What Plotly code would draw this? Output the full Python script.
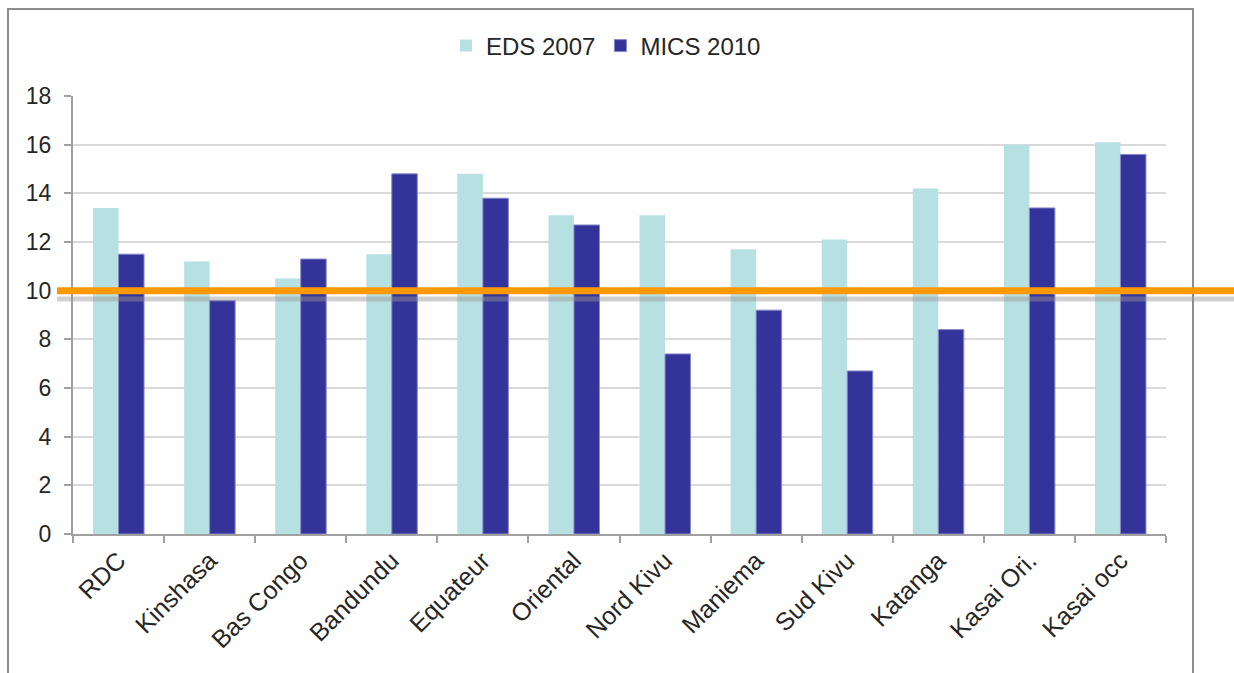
import plotly.graph_objects as go

categories = ["RDC", "Kinshasa", "Bas Congo", "Bandundu", "Equateur", "Oriental",
              "Nord Kivu", "Maniema", "Sud Kivu", "Katanga", "Kasai Ori.", "Kasai occ"]
eds_2007 = [13.4, 11.2, 10.5, 11.5, 14.8, 13.1, 13.1, 11.7, 12.1, 14.2, 16.0, 16.1]
mics_2010 = [11.5, 9.6, 11.3, 14.8, 13.8, 12.7, 7.4, 9.2, 6.7, 8.4, 13.4, 15.6]
threshold = 10
y_ticks = [0, 2, 4, 6, 8, 10, 12, 14, 16, 18]

W, H = 1234, 673
L, R, T, B = 73, 68, 96, 139
pw, ph = W - L - R, H - T - B

def px_x(p):
    return (p - L) / pw

def px_y(p):
    return (H - B - p) / ph

font = "Liberation Sans, Arial, sans-serif"
txt = "#262626"

fig = go.Figure()
fig.add_trace(go.Bar(x=categories, y=eds_2007, name="EDS 2007",
                     marker=dict(color="#B7E0E3", line=dict(width=0))))
fig.add_trace(go.Bar(x=categories, y=mics_2010, name="MICS 2010",
                     marker=dict(color="#333399", line=dict(color="#8888CC", width=1))))

shapes = [
    # outer chart border
    dict(type="rect", xref="paper", yref="paper",
         x0=px_x(8), x1=px_x(1193), y0=px_y(690), y1=px_y(9),
         line=dict(color="#8C8C8C", width=2), layer="below"),
    # shadow of threshold line
    dict(type="line", xref="paper", yref="paper",
         x0=px_x(57), x1=px_x(1240), y0=px_y(299), y1=px_y(299),
         line=dict(color="rgba(150,150,150,0.45)", width=5), layer="above"),
    # threshold line
    dict(type="line", xref="paper", yref="y",
         x0=px_x(57), x1=px_x(1240), y0=threshold, y1=threshold,
         line=dict(color="#FF9900", width=7), layer="above"),
]

fig.update_layout(
    width=W, height=H,
    margin=dict(l=L, r=R, t=T, b=B),
    paper_bgcolor="white", plot_bgcolor="white",
    barmode="group", bargap=0.44, bargroupgap=0.0,
    font=dict(family=font, size=22, color=txt),
    legend=dict(orientation="h", x=px_x(606), xanchor="center", y=px_y(46), yanchor="middle",
                font=dict(size=24, color=txt), itemwidth=30, traceorder="normal"),
    shapes=shapes,
    xaxis=dict(type="category", tickangle=-45, tickson="boundaries",
               ticks="outside", ticklen=7, tickcolor="#A0A0A0", tickwidth=1.5,
               showline=True, linecolor="#A0A0A0", linewidth=2,
               tickfont=dict(size=25, color=txt), showgrid=False),
    yaxis=dict(range=[0, 18], tickvals=y_ticks, ticks="outside", ticklen=7,
               tickcolor="#A0A0A0", tickwidth=1.5, ticklabelstandoff=8,
               showline=True, linecolor="#A0A0A0", linewidth=2,
               showgrid=True, gridcolor="#D9D9D9", gridwidth=1.5,
               zeroline=False, tickfont=dict(size=23, color=txt)),
)

fig.write_html("out.html")
